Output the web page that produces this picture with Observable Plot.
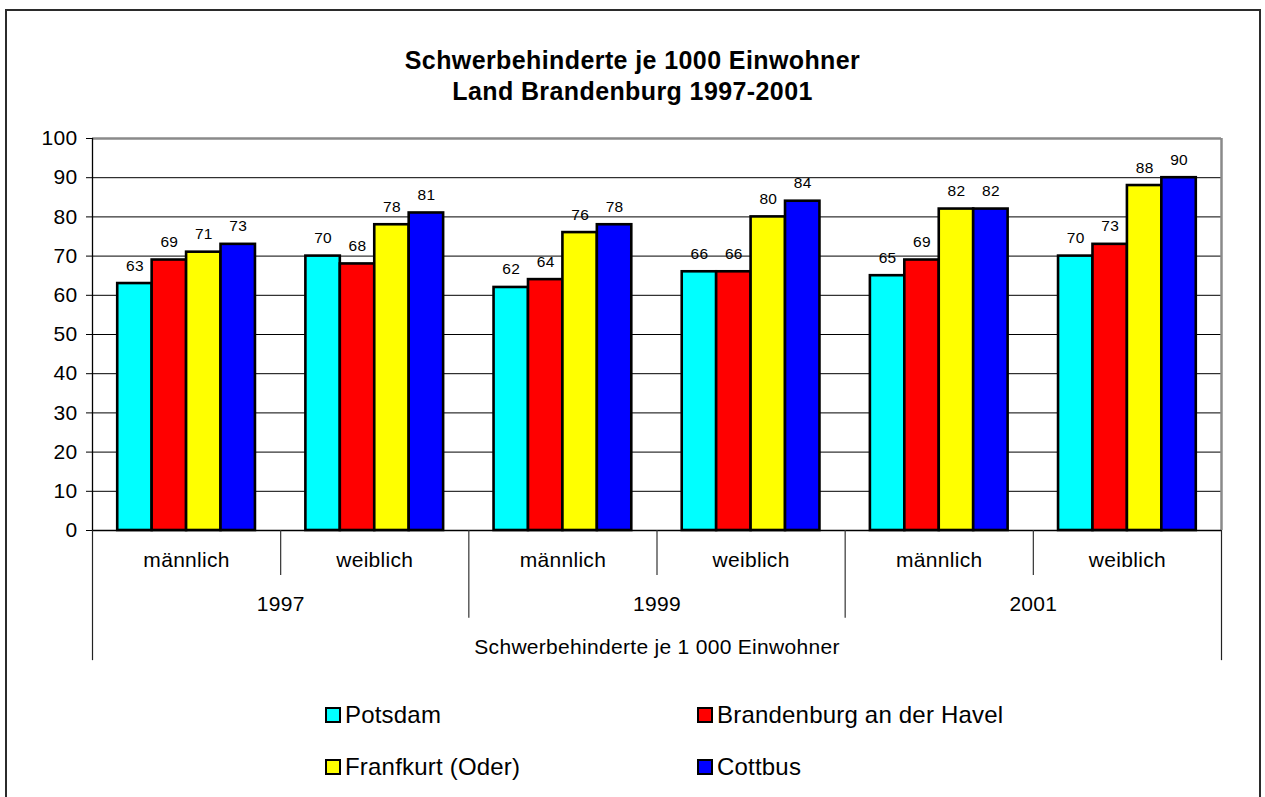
<!DOCTYPE html>
<html>
<head>
<meta charset="utf-8">
<script src="https://cdn.jsdelivr.net/npm/d3@7"></script>
<script src="https://cdn.jsdelivr.net/npm/@observablehq/plot@0.6"></script>
<style>
  body { margin: 0; background: #fff; font-family: "Liberation Sans", Arial, sans-serif; }
  #wrap { position: relative; width: 1265px; height: 797px; overflow: hidden; background: #fff; }
  #frame { position: absolute; left: 5px; top: 9px; width: 1252px; height: 820px; border: 2px solid #2b2b2b; border-bottom: none; }
  #title { position: absolute; left: 0; width: 1265px; top: 45px; text-align: center; font-weight: bold; font-size: 25px; letter-spacing: 0.4px; line-height: 31px; color: #000; }
  #chart { position: absolute; left: 0; top: 0; }
  #chart text { letter-spacing: 0.3px; }
  .item { position: absolute; display: flex; align-items: center; font-size: 24px; letter-spacing: 0.2px; line-height: 26px; color: #000; white-space: nowrap; }
  .sw { width: 12px; height: 12px; border: 2px solid #000; margin-right: 4px; }
</style>
</head>
<body>
<div id="wrap">
  <div id="frame"></div>
  <div id="chart"></div>
  <div id="title"></div>
  <div id="legend"></div>
</div>
<script>
// ---- data ----
const titleLines = ["Schwerbehinderte je 1000 Einwohner", "Land Brandenburg 1997-2001"];
const axisTitle = "Schwerbehinderte je 1 000 Einwohner";
const years = ["1997", "1999", "2001"];
const sexes = ["männlich", "weiblich"];
const cities = ["Potsdam", "Brandenburg an der Havel", "Franfkurt (Oder)", "Cottbus"];
const cityColors = ["#00FFFF", "#FF0000", "#FFFF00", "#0000FF"];
// values per group: 1997 m, 1997 w, 1999 m, 1999 w, 2001 m, 2001 w
const potsdam     = [63, 70, 62, 66, 65, 70];
const brandenburg = [69, 68, 64, 66, 69, 73];
const frankfurt   = [71, 78, 76, 80, 82, 88];
const cottbus     = [73, 81, 78, 84, 82, 90];
const yTicks = [0, 10, 20, 30, 40, 50, 60, 70, 80, 90, 100];

// ---- build table ----
const series = [potsdam, brandenburg, frankfurt, cottbus];
const groups = years.flatMap(y => sexes.map(s => ({year: y, sex: s})));
const rows = [];
groups.forEach((g, gi) => {
  series.forEach((vals, ci) => {
    rows.push({gi, ci, year: g.year, sex: g.sex, city: cities[ci], value: vals[gi]});
  });
});
const BAR = 0.183; // bar width as a fraction of one group
const barX1 = d => d.gi + 0.5 + (d.ci - 2) * BAR;
const barX2 = d => d.gi + 0.5 + (d.ci - 1) * BAR;
const barXc = d => d.gi + 0.5 + (d.ci - 1.5) * BAR;

const gridVals = yTicks.filter(v => v > 0 && v < 100);
const sexSeps = [1, 3, 5];
const yearSeps = [2, 4];
const edgeSeps = [0, groups.length];

const chart = Plot.plot({
  width: 1265,
  height: 797,
  marginTop: 138,
  marginBottom: 267,
  marginLeft: 92,
  marginRight: 44,
  x: {type: "linear", domain: [0, groups.length], axis: null},
  y: {domain: [0, 100], ticks: yTicks, tickSize: 6, tickPadding: 9, label: null, tickFormat: d => String(d)},
  color: {domain: cities, range: cityColors},
  style: {fontFamily: "'Liberation Sans', Arial, sans-serif", fontSize: "21px", background: "transparent", color: "#000"},
  marks: [
    Plot.ruleY(gridVals, {x1: 0, x2: groups.length, stroke: "#000", strokeWidth: 1}),
    Plot.ruleY([100], {x1: 0, x2: groups.length, stroke: "#8a8a8a", strokeWidth: 2.5}),
    Plot.ruleX([groups.length], {y1: 0, y2: 100, stroke: "#8a8a8a", strokeWidth: 2.5}),
    Plot.rectY(rows, {x1: barX1, x2: barX2, y: "value", fill: "city", stroke: "#000", strokeWidth: 2.6}),
    Plot.text(rows, {x: barXc, y: "value", text: d => String(d.value), dy: -18, fontSize: 15.5, fill: "#000"}),
    Plot.ruleX([0], {y1: 0, y2: 100, stroke: "#000", strokeWidth: 1.3}),
    Plot.ruleY([0], {x1: 0, x2: groups.length, stroke: "#000", strokeWidth: 1.3}),
    // category axis separators
    Plot.ruleX(sexSeps, {y1: 0, y2: -11.5, stroke: "#333", strokeWidth: 1.2}),
    Plot.ruleX(yearSeps, {y1: 0, y2: -22.4, stroke: "#333", strokeWidth: 1.2}),
    Plot.ruleX(edgeSeps, {y1: 0, y2: -33.2, stroke: "#222", strokeWidth: 1.2}),
    // category labels
    Plot.text(groups, {x: (d, i) => i + 0.5, y: () => -7.7, text: "sex", fontSize: 21, fill: "#000"}),
    Plot.text(years, {x: (d, i) => 2 * i + 1, y: () => -18.7, text: d => d, fontSize: 21, fill: "#000"}),
    Plot.text([axisTitle], {x: () => groups.length / 2, y: () => -29.9, text: d => d, fontSize: 21, fill: "#000"})
  ]
});
document.getElementById("chart").appendChild(chart);

document.getElementById("title").innerHTML = titleLines.map(t => `<div>${t}</div>`).join("");

const legendPos = [[325, 715], [697, 715], [325, 767], [697, 767]];
const legend = document.getElementById("legend");
cities.forEach((c, i) => {
  const el = document.createElement("div");
  el.className = "item";
  el.style.left = legendPos[i][0] + "px";
  el.style.top = (legendPos[i][1] - 13) + "px";
  el.innerHTML = `<span class="sw" style="background:${cityColors[i]}"></span><span>${c}</span>`;
  legend.appendChild(el);
});
</script>
</body>
</html>
